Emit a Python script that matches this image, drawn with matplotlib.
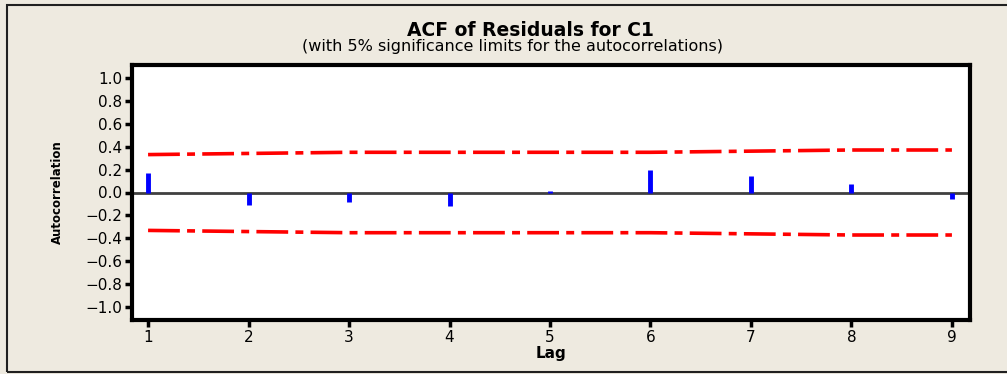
import numpy as np
import matplotlib.pyplot as plt
from matplotlib.patches import Rectangle

lags = [1, 2, 3, 4, 5, 6, 7, 8, 9]
acf = [0.17, -0.11, -0.08, -0.12, 0.01, 0.20, 0.14, 0.07, -0.06]
limit = [0.33, 0.34, 0.35, 0.35, 0.35, 0.35, 0.36, 0.37, 0.37]
yticks = [1.0, 0.8, 0.6, 0.4, 0.2, 0.0, -0.2, -0.4, -0.6, -0.8, -1.0]

bg = '#eeeae0'
fig = plt.figure(figsize=(10.07, 3.74), dpi=100, facecolor=bg)
ax = fig.add_axes([132/1007, 1-320/374, (970-132)/1007, (320-65)/374])

ax.axhline(0, color='#404040', lw=2, zorder=1)
ax.vlines(lags, 0, acf, color='#0000ff', lw=3.5, zorder=2)
ds = (8.8, 2.0, 2.2, 2.0)
ax.plot(lags, limit, color='#ff0000', lw=2.6, dashes=ds, zorder=3)
ax.plot(lags, [-v for v in limit], color='#ff0000', lw=2.6, dashes=ds, zorder=3)

ax.set_xlim(0.84, 9.18)
ax.set_ylim(-1.11, 1.11)
ax.set_xticks(lags)
ax.set_yticks(yticks)
ax.set_yticklabels(['%.1f' % v if v >= 0 else '\u2212%.1f' % -v for v in yticks])
for s in ax.spines.values():
    s.set_linewidth(3)
ax.tick_params(direction='out', length=5, width=2.5, labelsize=11, pad=2)

ax.set_xlabel('Lag', fontsize=11, fontweight='bold', labelpad=1)
ax.set_ylabel('Autocorrelation', fontsize=8.5, fontweight='bold')
ax.yaxis.set_label_coords(-68/838, 0.5)

fig.text(530/1007, 1-30/374, 'ACF of Residuals for C1', ha='center', va='center',
         fontsize=13.5, fontweight='bold')
fig.text(512/1007, 1-47/374, '(with 5% significance limits for the autocorrelations)',
         ha='center', va='center', fontsize=11.5)

fig.patches.append(Rectangle((7/1007, 2/374), 1.1, 367/374, transform=fig.transFigure,
                             fill=False, edgecolor='#202020', lw=1.5))

fig.savefig('out.png', dpi=100, facecolor=bg)
